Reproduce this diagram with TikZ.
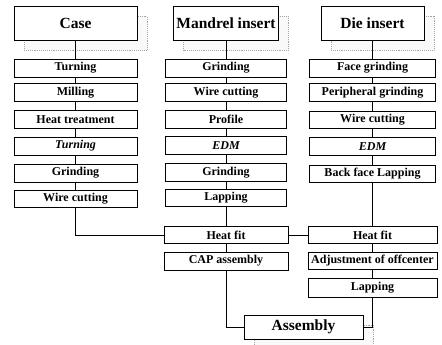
\documentclass[tikz,border=0pt]{standalone}
\usepackage{fontspec}
\setmainfont{Liberation Serif}
\usetikzlibrary{shadows}
\begin{document}
\begin{tikzpicture}[x=1pt,y=-1pt,
  box/.style={draw=black, line width=0.8pt, fill=white, font=\bfseries\fontsize{12}{13}\selectfont, inner sep=0pt, minimum height=18pt},
  head/.style={draw=black, line width=0.9pt, fill=white, font=\bfseries\fontsize{15.5}{17}\selectfont, inner sep=0pt, minimum height=34pt,
    general shadow={shadow xshift=10pt, shadow yshift=-10pt, draw=gray!70, densely dotted, fill=gray!5}},
  link/.style={draw=black, line width=0.7pt}]
\useasboundingbox (0,0) rectangle (442,345);
% left column
\node[head, minimum width=123pt] (case) at (75.5,23.5) {Case};
\node[box, minimum width=123pt] (c1) at (75.5,68) {Turning};
\node[box, minimum width=123pt] (c2) at (75.5,92.5) {Milling};
\node[box, minimum width=123pt] (c3) at (75.5,119.5) {Heat treatment};
\node[box, minimum width=123pt] (c4) at (75.5,146) {\itshape Turning};
\node[box, minimum width=123pt] (c5) at (75.5,173) {Grinding};
\node[box, minimum width=123pt, minimum height=17pt] (c6) at (75.5,199) {Wire cutting};
% middle column
\node[head, minimum width=105pt] (mand) at (226,23.5) {Mandrel insert};
\node[box, minimum width=121pt] (m1) at (226,68) {Grinding};
\node[box, minimum width=121pt] (m2) at (226,92.5) {Wire cutting};
\node[box, minimum width=121pt] (m3) at (226,119.5) {Profile};
\node[box, minimum width=121pt] (m4) at (226,145.5) {\itshape EDM};
\node[box, minimum width=121pt] (m5) at (226,172.5) {Grinding};
\node[box, minimum width=121pt, minimum height=17pt] (m6) at (226,197.5) {Lapping};
\node[box, minimum width=124pt, minimum height=17pt] (hf1) at (226,235) {Heat fit};
\node[box, minimum width=124pt] (cap) at (226,261) {CAP assembly};
% right column
\node[head, minimum width=103pt] (die) at (372.5,23.5) {Die insert};
\node[box, minimum width=126pt] (r1) at (372.5,68) {Face grinding};
\node[box, minimum width=126pt] (r2) at (372.5,92.5) {Peripheral grinding};
\node[box, minimum width=126pt, minimum height=17pt] (r3) at (372.5,120) {Wire cutting};
\node[box, minimum width=126pt] (r4) at (372.5,146.5) {\itshape EDM};
\node[box, minimum width=126pt, minimum height=17pt] (r5) at (372.5,173.5) {Back face Lapping};
\node[box, minimum width=129pt, minimum height=17pt] (hf2) at (372.5,235) {Heat fit};
\node[box, minimum width=129pt, minimum height=17pt] (adj) at (372.5,260.5) {Adjustment of offcenter};
\node[box, minimum width=129pt, minimum height=19pt] (rlap) at (372.5,287.5) {Lapping};
% assembly
\node[box, minimum width=119pt, minimum height=24pt, font=\bfseries\fontsize{15.5}{17}\selectfont,
  general shadow={shadow xshift=10pt, shadow yshift=-10pt, draw=gray!70, densely dotted, fill=gray!5}] (asm) at (303.5,327) {Assembly};
% connectors
\draw[link] (case) -- (c1) -- (c2) -- (c3) -- (c4) -- (c5) -- (c6);
\draw[link] (mand) -- (m1) -- (m2) -- (m3) -- (m4) -- (m5) -- (m6) -- (hf1) -- (cap);
\draw[link] (die) -- (r1) -- (r2) -- (r3) -- (r4) -- (r5) -- (hf2) -- (adj) -- (rlap);
\draw[link] (c6.south) |- (hf1.west);
\draw[link] (hf1.east) -- (hf2.west);
\draw[link] (cap.south) |- (asm.west);
\draw[link] (rlap.south) |- (asm.east);
\end{tikzpicture}
\end{document}
